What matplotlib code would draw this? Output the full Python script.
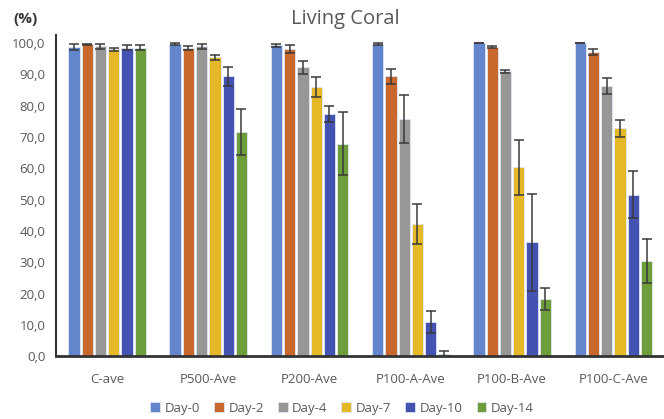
import numpy as np
import matplotlib
matplotlib.use("Agg")
import matplotlib.pyplot as plt
from matplotlib.ticker import FuncFormatter

plt.rcParams.update({"font.family": ["Open Sans", "DejaVu Sans"], "font.size": 9.5})

groups = ["C-ave", "P500-Ave", "P200-Ave", "P100-A-Ave", "P100-B-Ave", "P100-C-Ave"]
days = ["Day-0", "Day-2", "Day-4", "Day-7", "Day-10", "Day-14"]
colors = ["#6285CB", "#C8682C", "#979797", "#E5B827", "#4453B1", "#6E9E3B"]

# values per day, one entry per group
day0 = [98.7, 99.6, 99.3, 99.7, 100.0, 100.0]
day2 = [99.6, 98.4, 98.0, 89.3, 98.7, 97.2]
day4 = [99.0, 98.9, 92.2, 75.7, 90.9, 86.3]
day7 = [98.0, 95.4, 85.9, 42.1, 60.3, 72.7]
day10 = [98.5, 89.3, 77.3, 10.8, 36.4, 51.6]
day14 = [98.5, 71.5, 67.8, 0.6, 18.3, 30.5]

err0 = [1.0, 0.3, 0.5, 0.3, 0.1, 0.1]
err2 = [0.2, 0.7, 1.2, 2.3, 0.2, 0.9]
err4 = [0.8, 0.7, 2.0, 7.7, 0.6, 2.5]
err7 = [0.5, 0.9, 3.2, 6.4, 8.8, 2.8]
err10 = [0.8, 3.1, 2.6, 3.5, 15.5, 7.4]
err14 = [0.8, 7.4, 10.0, 1.0, 3.5, 7.0]

values = [day0, day2, day4, day7, day10, day14]
errors = [err0, err2, err4, err7, err10, err14]

fig = plt.figure(figsize=(6.64, 4.19), dpi=100)
ax = fig.add_axes([0.085, 0.150, 0.915, 0.767])

x = np.arange(len(groups))
slot = 0.131
for i, (vals, errs) in enumerate(zip(values, errors)):
    pos = x + (i - 2.5) * slot
    ax.bar(pos, vals, width=0.112, color=colors[i], edgecolor="#dde6f5", linewidth=0.6,
           label=days[i], zorder=2)
    ax.errorbar(pos, vals, yerr=errs, fmt="none", ecolor="#3a3a3a", elinewidth=1.1,
                capsize=3.5, capthick=1.1, zorder=3)

ax.set_xlim(-0.5, 5.5)
ax.set_ylim(0, 102.6)
ax.set_yticks(np.arange(0, 101, 10))
ax.yaxis.set_major_formatter(FuncFormatter(lambda v, p: ("%.1f" % v).replace(".", ",")))
ax.set_xticks(x)
ax.set_xticklabels(groups)
ax.tick_params(axis="both", length=0, colors="#595959", labelsize=9.5)
ax.tick_params(axis="x", pad=12)
ax.tick_params(axis="y", pad=8)
for s in ["top", "right"]:
    ax.spines[s].set_visible(False)
ax.spines["left"].set_color("#333333")
ax.spines["left"].set_linewidth(1.5)
ax.spines["bottom"].set_color("#333333")
ax.spines["bottom"].set_linewidth(2)

fig.text(0.52, 0.955, "Living Coral", ha="center", va="center", fontsize=14.5, color="#595959")
fig.text(0.038, 0.955, "(%)", ha="center", va="center", fontsize=11, color="#333333",
         fontweight="bold")

ax.legend(loc="center", bbox_to_anchor=(0.47, -0.162), ncol=6, frameon=False,
          handlelength=0.75, handleheight=0.75, handletextpad=0.35, columnspacing=1.05,
          fontsize=9.5, labelcolor="#595959")

fig.savefig("out.png", dpi=100)
